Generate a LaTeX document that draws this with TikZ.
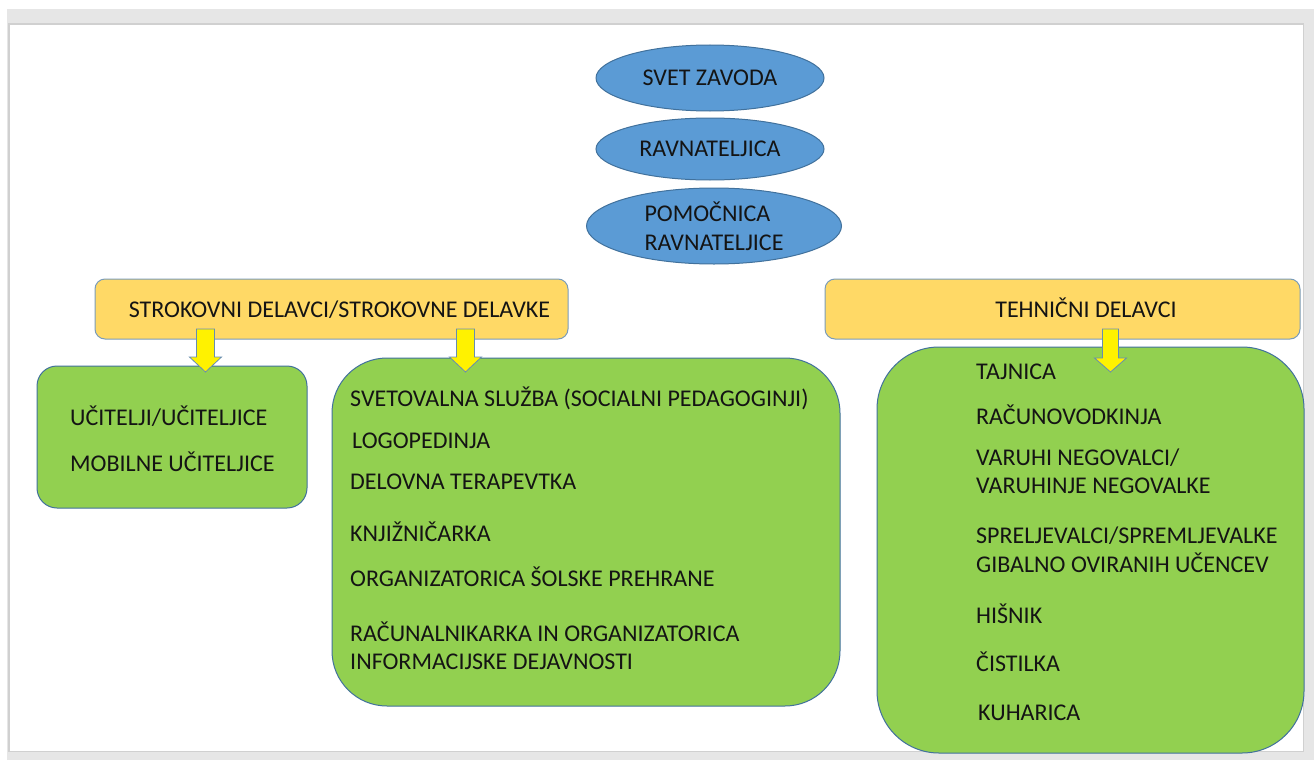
\documentclass[tikz,border=0pt]{standalone}
\usepackage{fontspec}
\setmainfont{Carlito}
\usetikzlibrary{positioning,shapes.geometric}

\definecolor{ellblue}{HTML}{5B9BD5}
\definecolor{edgeblue}{HTML}{41719C}
\definecolor{headgold}{HTML}{FFD966}
\definecolor{boxgreen}{HTML}{92D050}
\definecolor{framegray}{HTML}{E6E6E6}
\definecolor{framelinegray}{HTML}{D0D0D0}
\definecolor{textblack}{HTML}{141414}

\begin{document}
\begin{tikzpicture}[x=1pt,y=-1pt,
    every node/.style={font=\fontsize{24}{29}\selectfont,text=textblack},
    lead node/.style={ellipse,draw=edgeblue,fill=ellblue,line width=1pt,inner sep=0pt},
    group node/.style={rectangle,rounded corners=10pt,draw=edgeblue!70,fill=headgold,
                       line width=1pt,minimum height=60pt},
    staff node/.style={rectangle,draw=edgeblue,fill=boxgreen,line width=1pt},
    item/.style={anchor=base west,inner sep=0pt},
    yarrow/.style={fill=yellow,draw=edgeblue!80,line width=0.8pt,line join=miter}]

        % Page frame
        \fill[white] (0,0) rectangle (1314,760);
        \fill[framegray] (7,9) rectangle (1314,760);
        \draw[framelinegray,fill=white,line width=1.5pt] (9,24) rectangle (1303.5,751.5);

        % Leadership
        \node[lead node,minimum width=228pt,minimum height=66pt] (svet) at (710,78) {SVET ZAVODA};
        \node[lead node,minimum width=228pt,minimum height=62pt,below=6pt of svet] (ravn) {RAVNATELJICA};
        \node[lead node,minimum width=255pt,minimum height=76pt,align=left,
              below=7pt of ravn,xshift=4pt] (pomoc) {POMOČNICA\\RAVNATELJICE};

        % Groups
        \node[group node,minimum width=473pt] (strok) at (331.5,309) {};
        \node[group node,minimum width=475pt] (tehn) at (1062.5,309) {};
        \node[anchor=base,inner sep=0pt] (strokt) at (339.5,317) {STROKOVNI DELAVCI/STROKOVNE DELAVKE};
        \node[anchor=base,inner sep=0pt] (tehnt) at (1086,317) {TEHNIČNI DELAVCI};

        % Staff boxes
        \node[staff node,rounded corners=20pt,minimum width=270pt,minimum height=142pt] (ucit) at (172,437) {};
        \node[staff node,rounded corners=55pt,minimum width=508pt,minimum height=348pt] (sluzba) at (586,532) {};
        \node[staff node,rounded corners=62pt,minimum width=427pt,minimum height=406pt] (tehb) at (1090.5,550) {};

        % Arrows
        \coordinate (a1) at (205.5,329);
        \coordinate (a2) at (465.5,329);
        \coordinate (a3) at (1110.5,329);
        \draw[yarrow] (a1) ++(-9,0) -- ++(18,0) -- ++(0,28) -- ++(7,0) -- ++(-16,15) -- ++(-16,-15) -- ++(7,0) -- cycle;
        \draw[yarrow] (a2) ++(-9,0) -- ++(18,0) -- ++(0,28) -- ++(7,0) -- ++(-16,15) -- ++(-16,-15) -- ++(7,0) -- cycle;
        \draw[yarrow] (a3) ++(-8,0) -- ++(16,0) -- ++(0,29) -- ++(8,0) -- ++(-16,14) -- ++(-16,-14) -- ++(8,0) -- cycle;

        % Items
        \node[item] (u1) at (70,425) {UČITELJI/UČITELJICE};
        \node[item] (u2) at (70,471) {MOBILNE UČITELJICE};

        \node[item] (s1) at (350,406) {SVETOVALNA SLUŽBA (SOCIALNI PEDAGOGINJI)};
        \node[item] (s2) at (352,448) {LOGOPEDINJA};
        \node[item] (s3) at (350,489) {DELOVNA TERAPEVTKA};
        \node[item] (s4) at (350,541) {KNJIŽNIČARKA};
        \node[item] (s5) at (350,586) {ORGANIZATORICA ŠOLSKE PREHRANE};
        \node[item] (s6) at (350,641) {RAČUNALNIKARKA IN ORGANIZATORICA};
        \node[item] (s7) at (350,669) {INFORMACIJSKE DEJAVNOSTI};

        \node[item] (t1) at (976,379) {TAJNICA};
        \node[item] (t2) at (976,424) {RAČUNOVODKINJA};
        \node[item] (t3) at (976,465) {VARUHI NEGOVALCI/};
        \node[item] (t4) at (976,493) {VARUHINJE NEGOVALKE};
        \node[item] (t5) at (976,543) {SPRELJEVALCI/SPREMLJEVALKE};
        \node[item] (t6) at (976,572) {GIBALNO OVIRANIH UČENCEV};
        \node[item] (t7) at (976,623) {HIŠNIK};
        \node[item] (t8) at (976,671) {ČISTILKA};
        \node[item] (t9) at (978,720) {KUHARICA};

\end{tikzpicture}
\end{document}
